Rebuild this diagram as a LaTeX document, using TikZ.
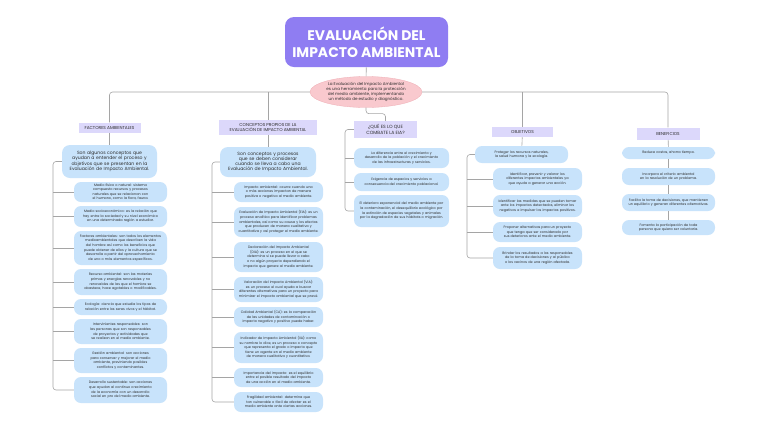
\documentclass[tikz,border=0pt]{standalone}
\usepackage{fontspec}
\setmainfont{Poppins}
\usetikzlibrary{positioning,calc,shapes.geometric}
\definecolor{ink}{RGB}{45,45,45}
\definecolor{wire}{RGB}{165,165,165}
\definecolor{violet}{RGB}{143,125,242}
\definecolor{blush}{RGB}{249,201,206}
\definecolor{blushline}{RGB}{238,172,180}
\definecolor{lilac}{RGB}{220,216,251}
\definecolor{sky}{RGB}{200,227,251}
\newcommand{\nohyph}{\hyphenpenalty=10000\exhyphenpenalty=10000}
\tikzset{
  every picture/.style={color=ink, line width=0.5pt},
  headline/.style={fill=violet, text=white, rounded corners=9bp, align=center, minimum width=163bp, minimum height=50bp, inner sep=0pt, font=\bfseries\fontsize{14}{17.5}\selectfont},
  idea/.style={ellipse, fill=blush, draw=blushline, line width=0.3pt, minimum width=112bp, minimum height=31bp, inner sep=0pt},
  ideatext/.style={align=center, inner sep=0pt, font=\fontsize{4.1}{5.3}\selectfont},
  cat/.style={fill=lilac, align=center, inner sep=1pt, font=\fontsize{4.3}{5.1}\selectfont},
  lead/.style={fill=sky, rounded corners=8bp, align=center, inner sep=0pt, font=\nohyph\fontsize{4.6}{5.3}\selectfont},
  card/.style={fill=sky, rounded corners=7bp, align=center, inner sep=0pt, font=\nohyph\fontsize{3.4}{4.6}\selectfont},
  link/.style={draw=wire, line width=0.6pt, rounded corners=3bp},
}

\begin{document}
\begin{tikzpicture}[x=1bp, y=-1bp]
  \fill[white] (0,0) rectangle (768,431);
  \useasboundingbox (0,0) rectangle (768,431);
  % title and core idea
  \node[headline] (title) at (366.5,42) {EVALUACIÓN DEL\\IMPACTO AMBIENTAL};
  \node[idea, label={[ideatext]center:{La Evaluación del Impacto Ambiental\\es una herramienta para la protección\\del medio ambiente, implementando\\un método de estudio y diagnóstico.}}] (core) at (366,92) {};
  % categories
  \node[cat, minimum width=62bp, minimum height=10bp] (fac) at (109.5,127.5) {FACTORES AMBIENTALES};
  \node[cat, minimum width=98bp, minimum height=15bp] (con) at (268,127.5) {CONCEPTOS PROPIOS DE LA\\EVALUACIÓN DE IMPACTO AMBIENTAL};
  \node[cat, minimum width=63bp, minimum height=17bp, font=\fontsize{4.6}{5.4}\selectfont] (que) at (385.5,129.5) {¿QUÉ ES LO QUE\\COMBATE LA EIA?};
  \node[cat, minimum width=61bp, minimum height=10bp] (obj) at (522.5,132) {OBJETIVOS};
  \node[cat, minimum width=63bp, minimum height=12bp] (ben) at (668,133.5) {BENEFICIOS};
  % factores ambientales
  \node[lead, minimum width=95bp, minimum height=33bp, text width=90bp] (facl) at (109.5,161.5) {Son algunos conceptos que ayudan a entender el proceso y objetivos que se presentan en la Evaluación de Impacto Ambiental.};
  \foreach \k/\y/\h/\txt in {
    1/192/20/{Medio físico o natural: sistema compuesto recursos y procesos naturales que se relacionan con el humano, como la flora, fauna.},
    2/216.5/21/{Medio socioeconómico: es la relación que hay entre la sociedad y su nivel económico en una determinada región a estudiar.},
    3/248/34/{Factores ambientales: son todos los elementos medioambientales que describen la vida del hombre así como los beneficios que puede obtener de ellos y la cultura que se desarrolla a partir del aprovechamiento de uno o más elementos específicos.},
    4/282/26/{Recurso ambiental: son las materias primas y energías renovables y no renovables de las que el hombre se abastece, hace agotables o modificables.},
    5/307/16/{Ecología: ciencia que estudia los tipos de relación entre los seres vivos y el hábitat.},
    6/331.5/25/{Intervinientes responsables: son las personas que son responsables de proyectos y actividades que se realizan en el medio ambiente.},
    7/360.5/25/{Gestión ambiental: son acciones para conservar y mejorar el medio ambiente, previniendo posibles conflictos y contaminantes.},
    8/390/26/{Desarrollo sustentable: son acciones que ayudan al continuo crecimiento de la economía con un desarrollo social en pro del medio ambiente.}}
    \node[card, minimum width=93bp, minimum height=\h bp, text width=82bp] (f\k) at (120.5,\y) {\txt};
  % conceptos propios
  \node[lead, minimum width=96bp, minimum height=30bp, text width=86bp] (conl) at (268,162) {Son conceptos y procesos que se deben considerar cuando se lleva a cabo una Evaluación de Impacto Ambiental.};
  \foreach \k/\y/\h/\txt in {
    1/192/20/{Impacto ambiental: ocurre cuando una o más acciones impactan de manera positiva o negativa al medio ambiente.},
    2/222/30/{Evaluación de Impacto Ambiental (EIA): es un proceso analítico para identificar problemas ambientales, así como su causa y los efectos que producen de manera cualitativa y cuantitativa y así proteger el medio ambiente.},
    3/257/30/{Declaración del Impacto Ambiental (DIA): es un proceso en el que se determina si se puede llevar a cabo o no algún proyecto dependiendo el impacto que genere al medio ambiente.},
    4/289.5/25/{Valoración del Impacto Ambiental (VIA): es un proceso el cual ayuda a buscar diferentes alternativas para un proyecto para minimizar el impacto ambiental que se prevé.},
    5/317/20/{Calidad Ambiental (CA): es la comparación de las unidades de contaminación o impacto negativo y positivo puede haber.},
    6/347.5/31/{Indicador de Impacto Ambiental (IIA): como su nombre lo dice, es un proceso o concepto que representa el grado o impacto que tiene un agente en el medio ambiente de manera cualitativa y cuantitativa.},
    7/377.5/19/{Importancia del Impacto: es el equilibrio entre el posible resultado del impacto de una acción en el medio ambiente.},
    8/402/20/{Fragilidad ambiental: determina que tan vulnerable o fácil de afectar es el medio ambiente ante ciertas acciones.}}
    \node[card, minimum width=89bp, minimum height=\h bp, text width=80bp] (c\k) at (278.5,\y) {\txt};
  % que combate la EIA
  \foreach \k/\y/\h/\txt in {
    1/158/20/{La diferencia entre el crecimiento y desarrollo de la población y el crecimiento de las infraestructuras y servicios.},
    2/182/18/{Exigencia de espacios y servicios a consecuencia del crecimiento poblacional.},
    3/211/32/{El deterioro exponencial del medio ambiente por la contaminación, el desequilibrio ecológico por la extinción de especies vegetales y animales por la degradación de sus hábitats o migración.}}
    \node[card, minimum width=95bp, minimum height=\h bp, text width=84bp] (q\k) at (401.5,\y) {\txt};
  % objetivos
  \node[card, minimum width=93bp, minimum height=17bp, text width=80bp] (o1) at (521.5,154.5) {Proteger los recursos naturales, la salud humana y la ecología.};
  \foreach \k/\y/\h/\txt in {
    2/179/22/{Identificar, prevenir y valorar los diferentes impactos ambientales ya que ayuda a generar una acción.},
    3/206/22/{Identificar las medidas que se pueden tomar ante los impactos detectados, eliminar los negativos e impulsar los impactos positivos.},
    4/232/20/{Proponer alternativas para un proyecto que tenga que ser considerado por sus deterioros ante el medio ambiente.},
    5/258/22/{Brindar los resultados a los responsables de la toma de decisiones y al público o los vecinos de una región afectada.}}
    \node[card, minimum width=89bp, minimum height=\h bp, text width=80bp] (o\k) at (537.5,\y) {\txt};
  % beneficios
  \foreach \k/\y/\h/\txt in {
    1/153/12/{Reduce costos, ahorra tiempo.},
    2/176.5/17/{Incorpora el criterio ambiental en la resolución de un problema.},
    3/202.5/17/{Facilita la toma de decisiones, que mantienen un equilibrio y generan diferentes alternativas.},
    4/227.5/15/{Fomenta la participación de toda persona que quiera ser voluntaria.}}
    \node[card, minimum width=93bp, minimum height=\h bp, text width=82bp] (b\k) at (668.5,\y) {\txt};
  % trunk
  \draw[link] (title) -- (core);
  \draw[link] (core.west) -| (fac.north);
  \draw[link] (core.west -| con.north) -- (con.north);
  \draw[link] (core.east) -| (ben.north);
  \draw[link] (core.east -| obj.north) -- (obj.north);
  \draw[link] (core.south) -- ++(0,6) -| (que.north);
  % brackets
  \coordinate (facs) at (53,0);
  \coordinate (cons) at (212,0);
  \coordinate (ques) at (345,0);
  \coordinate (objs) at (467,0);
  \draw[link] (fac) -- (facl);
  \draw[link] (facl.west) -| (facs |- f8.west) -- (f8.west);
  \foreach \k in {1,...,7} \draw[link] (facs |- f\k.west) -- (f\k.west);
  \draw[link] (con) -- (conl);
  \draw[link] (conl.west) -| (cons |- c8.west) -- (c8.west);
  \foreach \k in {1,...,7} \draw[link] (cons |- c\k.west) -- (c\k.west);
  \draw[link] (que.west) -| (ques |- q3.west) -- (q3.west);
  \foreach \k in {1,2} \draw[link] (ques |- q\k.west) -- (q\k.west);
  \draw[link] (obj) -- (o1);
  \draw[link] (o1.west) -| (objs |- o5.west) -- (o5.west);
  \foreach \k in {2,3,4} \draw[link] (objs |- o\k.west) -- (o\k.west);
  \draw[link] (ben) -- (b1);
  \foreach \k/\j in {1/2,2/3,3/4} \draw[link] (b\k) -- (b\j);
\end{tikzpicture}
\end{document}
